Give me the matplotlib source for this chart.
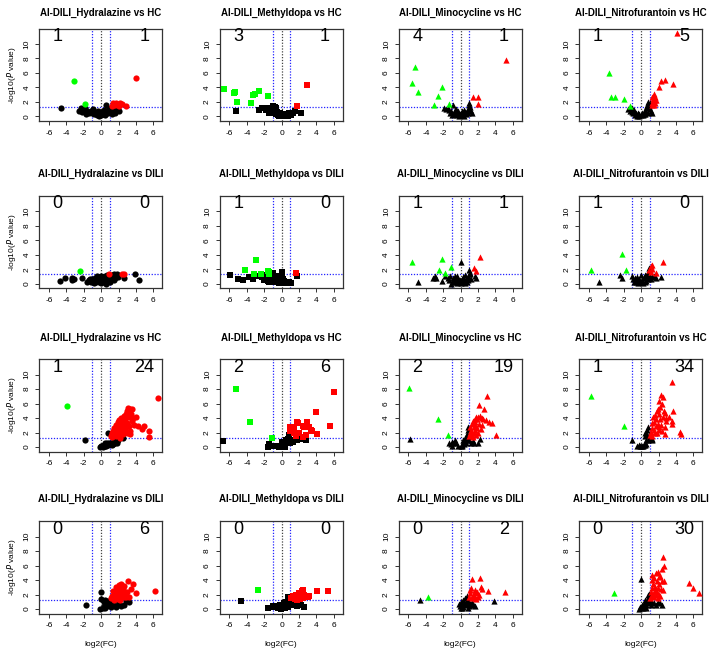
import matplotlib.pyplot as plt
import numpy as np

plt.rcParams['font.family'] = ['Liberation Sans', 'DejaVu Sans']
plt.rcParams['axes.unicode_minus'] = False

drugs = ['Hydralazine', 'Methyldopa', 'Minocycline', 'Nitrofurantoin']
row_refs = ['HC', 'DILI', 'HC', 'DILI']
markers = ['o', 's', '^', '^']
n_down = [[1, 3, 4, 1], [0, 1, 1, 1], [1, 2, 2, 1], [0, 0, 0, 0]]
n_up = [[1, 1, 1, 5], [0, 0, 1, 0], [24, 6, 19, 34], [6, 0, 2, 30]]

# (log2FC, -log10 p), one set per panel
# row 1: vs HC
p11_black = [(-4.6, 1.2), (-2.3, 1.1), (-2.0, 0.9), (-2.2, 0.6), (-1.9, 1.2), (-1.6, 0.7), (-1.4, 0.5),
             (-1.2, 0.8), (-1.0, 0.4), (-0.8, 0.3), (-0.6, 0.5), (-0.5, 0.2), (-0.3, 0.4), (-0.2, 0.1),
             (0.0, 0.2), (0.1, 0.5), (0.2, 0.3), (0.4, 0.6), (0.5, 0.2), (0.6, 1.5), (0.7, 0.8), (0.8, 0.4),
             (0.9, 1.0), (1.0, 0.6), (1.2, 0.3), (1.4, 0.9), (1.6, 0.5), (1.8, 1.1), (2.0, 0.7), (0.3, 0.9),
             (-0.9, 1.0), (-2.5, 0.8), (-1.7, 0.3), (-0.4, 0.7), (1.1, 1.2), (0.0, 0.6)]
p11_green = [(-3.1, 4.9), (-1.9, 1.65)]
p11_red = [(4.0, 5.25), (1.4, 1.8), (1.6, 1.5), (1.9, 1.6), (2.2, 1.8), (2.4, 1.7), (2.9, 1.4), (1.3, 1.4),
           (1.7, 1.9), (2.0, 1.4)]

p12_black = [(-5.2, 0.7), (2.2, 0.5), (1.5, 0.8), (-2.6, 0.9), (-2.3, 1.2), (-2.0, 1.1), (-1.8, 0.9),
             (-1.6, 1.2), (-1.5, 0.7), (-1.3, 1.0), (-1.2, 0.6), (-1.0, 1.4), (-0.9, 0.8), (-0.8, 0.4),
             (-0.7, 1.1), (-0.6, 0.3), (-0.5, 0.6), (-0.4, 0.2), (-0.3, 0.1), (-0.2, 0.4), (0.0, 0.1),
             (0.2, 0.2), (0.3, 0.05), (0.5, 0.3), (0.7, 0.1), (0.9, 0.3), (1.1, 0.2), (1.3, 0.5), (-1.1, 1.2),
             (-0.8, 1.3), (-1.4, 0.4), (0.1, 0.35), (-0.1, 0.2), (0.6, 0.15), (0.8, 0.4)]
p12_green = [(-6.6, 3.7), (-5.5, 3.2), (-5.4, 3.35), (-5.1, 2.0), (-3.55, 1.8), (-3.3, 3.0), (-3.1, 3.1),
             (-2.6, 3.5), (-1.6, 2.75)]
p12_red = [(2.9, 4.25), (1.8, 1.4)]

p13_black = [(-1.9, 1.2), (-1.7, 1.0), (-1.5, 1.1), (-1.3, 0.9), (-1.1, 0.7), (-0.9, 1.6), (-0.8, 0.5),
             (-0.7, 0.9), (-0.6, 0.3), (-0.5, 0.6), (-0.4, 0.2), (-0.3, 0.4), (-0.2, 0.1), (-0.1, 0.3),
             (0.0, 0.15), (0.1, 0.5), (0.2, 0.2), (0.3, 0.4), (0.4, 0.1), (0.5, 0.6), (0.6, 0.3), (0.7, 0.8),
             (0.8, 0.5), (0.9, 1.0), (1.0, 1.9), (1.1, 1.3), (1.2, 0.7), (1.3, 0.4), (-1.0, 0.2), (-0.5, 1.0),
             (0.4, 0.9), (-1.2, 0.4), (0.95, 1.5), (1.05, 0.9), (-0.3, 0.8), (0.2, 0.7)]
p13_green = [(-5.3, 6.75), (-5.6, 4.6), (-4.85, 3.4), (-2.1, 4.0), (-2.65, 2.8), (-3.1, 1.5), (-1.3, 1.7)]
p13_red = [(5.2, 7.8), (1.45, 2.7), (2.0, 2.7), (2.0, 1.7)]

p14_black = [(-1.5, 1.0), (-1.3, 0.8), (-1.1, 0.6), (-1.0, 1.1), (-0.9, 0.4), (-0.7, 0.2), (-0.6, 0.5),
             (-0.5, 0.1), (-0.3, 0.3), (-0.2, 0.1), (0.0, 0.2), (0.1, 0.4), (0.2, 0.15), (0.3, 0.3),
             (0.4, 0.6), (0.5, 0.9), (0.6, 1.2), (0.7, 1.6), (0.8, 2.0), (0.9, 1.4), (1.0, 1.0), (1.1, 0.7),
             (1.2, 0.5), (0.75, 0.5), (0.5, 0.3), (-0.8, 0.9), (1.0, 1.8), (0.85, 1.1), (-0.4, 0.45),
             (-1.2, 1.2)]
p14_green = [(-3.75, 6.0), (-3.5, 2.7), (-3.05, 2.65), (-2.0, 2.4), (-1.3, 1.4)]
p14_red = [(4.1, 11.5), (3.68, 4.4), (2.8, 5.07), (2.34, 4.93), (2.07, 4.0), (1.3, 1.6), (1.35, 2.0),
           (1.4, 2.4), (1.45, 2.8), (1.5, 3.1), (1.55, 2.2), (1.6, 1.8), (1.65, 2.6), (1.2, 1.9), (1.3, 2.6),
           (1.5, 1.5), (1.7, 2.2)]

# row 2: vs DILI
p21_black = [(-4.7, 0.4), (-4.2, 0.75), (-3.4, 0.75), (-3.3, 0.5), (-3.15, 0.7), (-2.2, 0.85), (2.6, 0.8),
             (3.85, 1.3), (4.35, 0.5), (-1.6, 0.3), (-1.4, 0.5), (-1.2, 0.2), (-1.0, 0.6), (-0.9, 0.4),
             (-0.7, 0.8), (-0.6, 0.3), (-0.5, 1.0), (-0.4, 0.5), (-0.2, 0.2), (-0.1, 0.7), (0.0, 1.1),
             (0.1, 0.4), (0.2, 0.9), (0.3, 0.2), (0.4, 0.6), (0.5, 1.0), (0.6, 0.5), (0.7, 1.2), (0.8, 0.3),
             (0.9, 0.8), (1.0, 0.5), (1.1, 1.0), (1.2, 0.7), (1.3, 1.2), (1.4, 0.9), (1.5, 1.3), (1.6, 0.8),
             (1.7, 1.1), (1.8, 1.3), (1.9, 0.9), (-0.8, 0.1), (0.0, 0.1), (0.6, 0.0), (-1.3, 0.7),
             (-0.3, 0.9), (1.0, 0.2), (1.5, 0.5)]
p21_green = [(-2.4, 1.7)]
p21_red = [(0.95, 1.4), (2.45, 1.4), (2.6, 1.3)]

p22_black = [(-5.9, 1.25), (-5.0, 0.7), (-4.4, 0.45), (-3.8, 0.9), (-3.35, 0.7), (-2.6, 1.0), (1.77, 1.0),
             (-2.3, 0.9), (-2.0, 0.5), (-1.8, 1.2), (-1.6, 0.4), (-1.4, 0.8), (-1.2, 1.3), (-1.1, 0.6),
             (-1.0, 1.5), (-0.9, 0.3), (-0.8, 0.9), (-0.7, 0.2), (-0.6, 0.6), (-0.5, 1.1), (-0.4, 0.3),
             (-0.3, 0.1), (-0.2, 0.5), (-0.1, 0.2), (0.0, 1.6), (0.0, 0.8), (0.1, 0.3), (0.2, 0.1), (0.3, 0.4),
             (0.4, 0.2), (0.5, 0.05), (0.6, 0.3), (0.7, 0.1), (0.9, 0.2), (1.1, 0.1), (-1.5, 0.2), (-0.5, 0.7),
             (0.2, 0.6)]
p22_green = [(-4.27, 1.9), (-2.96, 3.3), (-3.23, 1.35), (-2.35, 1.35), (-1.6, 1.8), (-1.46, 1.65),
             (-1.46, 1.4)]
p22_red = [(1.6, 1.5)]

p23_black = [(-4.85, 0.23), (0.0, 3.04), (-3.2, 0.74), (-2.95, 1.0), (-2.8, 0.8), (-2.1, 0.4), (-1.8, 1.0),
             (1.6, 1.0), (1.8, 0.8), (0.95, 1.9), (1.06, 1.5), (-1.5, 0.8), (-1.3, 0.5), (-1.2, 1.1),
             (-1.0, 0.3), (-0.9, 0.8), (-0.8, 0.2), (-0.7, 0.6), (-0.6, 1.0), (-0.5, 0.4), (-0.4, 0.1),
             (-0.3, 0.7), (-0.2, 0.3), (-0.1, 0.5), (0.0, 0.1), (0.1, 0.6), (0.2, 0.2), (0.3, 0.9), (0.4, 0.4),
             (0.5, 0.1), (0.6, 0.7), (0.7, 0.3), (0.8, 1.1), (0.9, 0.5), (1.0, 0.8), (1.1, 1.3), (1.2, 0.6),
             (-1.1, 0.0), (0.5, 1.2), (-0.4, 1.0)]
p23_green = [(-5.6, 2.95), (-2.16, 3.4), (-2.54, 1.84), (-1.78, 1.47), (-1.06, 2.3)]
p23_red = [(2.2, 3.73), (1.52, 2.12), (1.82, 1.8)]

p24_black = [(-4.9, 0.23), (2.3, 0.9), (-2.46, 1.2), (-2.15, 0.8), (0.85, 2.2), (-1.0, 1.0), (-0.9, 0.6),
             (-0.8, 0.3), (-0.7, 0.8), (-0.6, 0.2), (-0.5, 0.5), (-0.4, 0.1), (-0.3, 0.4), (-0.2, 0.7),
             (-0.1, 0.2), (0.0, 1.2), (0.0, 0.3), (0.1, 0.5), (0.2, 0.1), (0.3, 0.8), (0.4, 0.3), (0.5, 1.0),
             (0.6, 0.4), (0.7, 1.4), (0.8, 0.7), (0.9, 1.7), (1.0, 1.1), (1.1, 0.6), (1.3, 0.9), (1.5, 1.0),
             (1.7, 0.8), (-0.5, 0.9), (0.4, 1.2)]
p24_green = [(-5.73, 1.84), (-2.15, 4.1), (-1.8, 1.94)]
p24_red = [(2.5, 2.95), (1.3, 2.6), (1.1, 2.5), (0.96, 1.94), (1.1, 1.57), (1.73, 1.47), (1.2, 2.0)]

# row 3: vs HC
p31_black = [(-1.9, 0.96), (0.76, 1.97), (2.5, 1.28), (0.0, 0.1), (0.1, 0.2), (0.2, 0.05), (0.3, 0.3),
             (0.4, 0.15), (0.5, 0.4), (0.6, 0.2), (0.7, 0.5), (0.8, 0.3), (0.9, 0.6), (1.0, 0.4), (1.1, 0.5),
             (1.2, 0.3), (1.3, 0.6), (1.4, 0.4), (1.5, 0.7), (1.6, 0.5), (1.7, 0.8), (1.8, 0.6), (0.45, 0.55),
             (0.3, 0.1), (-0.1, 0.0), (1.9, 0.9)]
p31_green = [(-3.9, 5.7)]
p31_red = [(6.5, 6.75), (5.45, 2.2), (5.5, 1.33), (4.9, 2.94), (4.2, 2.94), (4.65, 2.43), (3.35, 2.2),
           (1.1, 1.5), (1.2, 1.9), (1.3, 1.4), (1.4, 2.2), (1.5, 1.7), (1.5, 2.6), (1.6, 2.0), (1.7, 1.5),
           (1.7, 3.0), (1.8, 2.4), (1.9, 1.8), (1.9, 3.4), (2.0, 2.8), (2.0, 2.1), (2.1, 3.7), (2.1, 1.6),
           (2.2, 2.5), (2.3, 3.2), (2.3, 4.0), (2.4, 2.0), (2.4, 2.9), (2.5, 3.5), (2.5, 1.8), (2.6, 2.6),
           (2.6, 4.3), (2.7, 3.1), (2.8, 2.3), (2.8, 3.8), (2.9, 4.6), (2.9, 2.7), (3.0, 5.0), (3.0, 3.3),
           (3.1, 5.4), (3.2, 4.2), (3.2, 2.9), (3.3, 5.2), (3.4, 4.6), (3.5, 3.6), (3.5, 5.3), (3.7, 4.0),
           (3.8, 3.0), (4.0, 4.1), (3.3, 1.8), (3.0, 2.0), (2.2, 1.3)]

p32_black = [(-6.8, 0.78), (-1.5, 0.37), (-1.6, 0.0), (-1.2, 0.2), (-1.0, 0.1), (-0.8, 0.2), (-0.6, 0.1),
             (-0.4, 0.15), (-0.2, 0.1), (0.0, 0.3), (0.1, 0.5), (0.2, 0.2), (0.3, 0.7), (0.4, 0.4), (0.5, 0.9),
             (0.6, 0.6), (0.7, 1.1), (0.8, 0.8), (0.9, 1.7), (1.0, 0.5), (1.1, 0.9), (1.3, 0.7), (1.8, 1.0),
             (2.3, 1.05), (2.8, 0.95), (0.35, 0.05), (-0.3, 0.0), (0.05, 0.7)]
p32_green = [(-5.23, 8.0), (-3.64, 3.4), (-1.14, 1.28)]
p32_red = [(6.0, 7.57), (5.6, 2.94), (3.9, 4.77), (4.05, 1.83), (3.4, 2.34), (3.5, 2.2), (2.95, 3.44),
           (2.54, 2.8), (2.4, 2.84), (1.75, 3.44), (1.9, 3.3), (1.45, 2.43), (1.3, 2.75), (1.0, 2.8),
           (1.0, 2.2), (2.05, 1.88), (1.7, 1.5), (2.4, 1.42), (3.1, 2.8), (2.8, 1.65), (1.4, 1.88)]

p33_black = [(-5.8, 1.1), (-1.3, 0.6), (-1.1, 0.4), (-1.0, 0.7), (-0.9, 0.5), (-0.7, 0.9), (-0.5, 0.6),
             (-1.0, 0.1), (0.0, 0.1), (0.1, 0.3), (0.2, 0.2), (0.3, 0.5), (0.4, 0.4), (0.5, 0.8), (0.6, 0.6),
             (0.7, 1.2), (0.8, 1.0), (0.9, 1.5), (0.7, 1.8), (0.8, 2.4), (0.9, 2.7), (1.0, 0.9), (1.2, 0.6),
             (1.4, 0.8), (2.0, 0.6), (2.2, 1.1), (0.5, 1.3), (0.3, 0.9), (-0.3, 0.2), (1.5, 0.5)]
p33_green = [(-5.94, 8.2), (-2.63, 3.85), (-1.4, 1.6)]
p33_red = [(3.0, 7.0), (2.1, 5.8), (2.7, 5.3), (4.1, 1.7), (3.6, 3.3), (3.3, 3.4), (2.9, 3.7), (2.5, 3.0),
           (2.2, 4.3), (2.0, 4.1), (1.9, 3.8), (1.8, 4.2), (1.7, 3.5), (1.6, 3.0), (1.5, 2.7), (1.4, 3.6),
           (1.3, 3.2), (1.2, 2.4), (1.1, 1.9), (1.0, 1.5), (1.2, 1.6), (1.5, 2.0), (1.7, 2.3), (1.9, 2.6),
           (2.1, 3.2), (2.3, 2.5), (2.6, 3.8), (1.4, 1.4), (1.8, 1.7), (2.0, 2.0), (1.1, 2.8), (1.6, 3.9),
           (2.4, 4.0), (1.3, 2.0)]

p34_black = [(-1.0, 1.0), (-0.5, 0.2), (-0.3, 0.3), (-0.1, 0.1), (0.1, 0.2), (0.3, 0.25), (0.5, 0.3),
             (0.6, 0.4), (0.4, 1.5), (0.5, 2.0), (0.7, 2.4), (0.8, 2.8), (0.7, 1.7), (0.9, 1.6), (1.0, 1.2),
             (1.2, 1.0), (1.3, 1.1), (0.6, 1.0), (0.8, 0.9), (0.2, 0.1), (0.0, 0.15)]
p34_green = [(-5.8, 7.0), (-2.0, 2.84)]
p34_red = [(3.6, 8.9), (2.3, 7.2), (2.5, 6.9), (2.0, 6.3), (2.4, 6.0), (2.2, 5.5), (1.9, 5.3), (2.6, 5.0),
           (2.8, 4.7), (3.2, 4.1), (3.6, 3.6), (3.7, 4.9), (3.5, 3.2), (2.9, 3.6), (2.7, 2.8), (2.5, 4.2),
           (2.2, 3.8), (2.0, 4.6), (1.8, 4.9), (1.7, 3.9), (1.6, 4.4), (1.5, 3.5), (1.4, 4.1), (1.3, 3.3),
           (1.2, 2.6), (1.1, 2.1), (1.0, 1.7), (1.3, 1.5), (1.5, 2.3), (1.7, 2.9), (1.9, 3.2), (2.1, 2.7),
           (2.3, 3.1), (2.4, 2.2), (2.7, 1.8), (4.5, 2.1), (4.6, 1.8), (1.8, 2.0), (2.0, 2.4), (1.6, 1.9),
           (2.9, 4.0)]

# row 4: vs DILI
p41_black = [(-1.8, 0.5), (0.0, 2.3), (0.0, 1.4), (0.2, 0.1), (-0.1, 0.05), (0.3, 0.3), (0.4, 0.5),
             (0.5, 0.2), (0.6, 0.8), (0.7, 0.4), (0.8, 1.1), (0.9, 0.6), (1.0, 0.9), (1.1, 0.3), (1.2, 0.6),
             (1.3, 0.9), (1.5, 0.5), (1.7, 0.3), (2.0, 0.7), (2.3, 0.4), (2.6, 0.6), (2.9, 1.1), (3.2, 0.9),
             (0.5, 1.3), (0.3, 0.9), (1.6, 1.2)]
p41_green = []
p41_red = [(6.2, 2.5), (4.0, 2.17), (3.1, 3.9), (3.65, 3.4), (1.1, 1.5), (1.3, 1.8), (1.4, 2.5), (1.5, 1.6),
           (1.6, 2.2), (1.7, 3.1), (1.8, 1.9), (1.9, 2.7), (2.0, 3.3), (2.0, 1.5), (2.1, 2.4), (2.2, 2.9),
           (2.3, 3.5), (2.3, 1.8), (2.4, 2.2), (2.5, 3.0), (2.5, 2.6), (2.6, 1.7), (2.7, 2.4), (2.8, 2.0),
           (2.9, 1.6), (3.0, 2.3), (3.2, 1.7), (3.4, 2.7), (1.9, 1.4), (2.2, 1.3), (1.5, 1.3), (2.6, 3.2)]

p42_black = [(-4.7, 1.1), (-1.6, 0.1), (-1.05, 0.46), (-0.9, 0.3), (0.75, 1.7), (-0.6, 0.4), (-0.4, 0.2),
             (-0.2, 0.5), (0.0, 0.3), (0.1, 0.6), (0.2, 0.2), (0.3, 0.8), (0.4, 0.4), (0.5, 1.0), (0.6, 0.5),
             (0.7, 0.3), (0.8, 0.8), (0.9, 1.2), (1.0, 0.6), (1.1, 0.9), (1.3, 0.5), (1.5, 0.7), (1.8, 0.4),
             (2.2, 0.5), (2.6, 0.3), (-0.1, 0.0), (0.4, 0.1), (1.2, 1.1)]
p42_green = [(-2.7, 2.6)]
p42_red = [(5.3, 2.5), (4.1, 2.5), (2.35, 2.5), (2.45, 2.6), (3.2, 1.8), (3.0, 1.6), (1.1, 1.5), (1.3, 1.8),
           (1.5, 1.4), (1.7, 2.0), (1.9, 1.6), (2.0, 2.2), (2.2, 1.8), (2.4, 1.5), (2.6, 1.9), (1.4, 1.6),
           (2.1, 1.4), (1.8, 1.3), (2.5, 2.2)]

p43_black = [(-4.7, 1.25), (3.8, 1.1), (0.0, 0.2), (-0.1, 0.4), (0.1, 0.1), (0.2, 0.5), (0.3, 0.3),
             (0.4, 0.8), (0.5, 0.5), (0.6, 1.0), (0.7, 0.7), (0.8, 1.3), (0.9, 0.9), (1.0, 0.4), (1.1, 0.7),
             (1.2, 0.5), (1.4, 0.6), (1.6, 0.4), (0.5, 1.5), (0.7, 1.8), (0.3, 1.2), (0.9, 0.2), (0.0, 1.0),
             (-0.2, 0.7), (1.3, 1.0)]
p43_green = [(-3.7, 1.65)]
p43_red = [(5.15, 2.3), (3.1, 2.5), (1.3, 4.1), (2.2, 4.3), (2.3, 3.1), (2.4, 2.8), (1.9, 2.4), (1.6, 2.6),
           (1.4, 2.0), (1.2, 2.9), (1.1, 2.2), (1.0, 1.7), (1.5, 1.8), (1.7, 2.2), (2.0, 1.6), (1.8, 1.4),
           (1.3, 1.5), (1.1, 2.6), (1.6, 1.5), (2.1, 1.9)]

p44_black = [(0.0, 4.1), (-0.1, 0.3), (0.0, 0.1), (0.1, 0.5), (0.2, 0.2), (0.3, 0.7), (0.4, 0.3), (0.5, 1.0),
             (0.6, 0.5), (0.7, 1.3), (0.8, 0.8), (0.9, 1.7), (1.0, 1.1), (1.1, 0.6), (1.3, 0.9), (1.5, 0.8),
             (1.7, 0.6), (1.9, 0.9), (2.2, 0.8), (2.4, 0.6), (0.9, 2.1), (0.8, 1.9), (-0.2, 0.0), (0.6, 0.1),
             (0.4, 1.2)]
p44_green = [(-3.13, 2.17)]
p44_red = [(2.55, 7.2), (2.67, 5.9), (2.44, 5.5), (1.9, 5.1), (5.5, 3.6), (6.0, 2.9), (6.7, 2.2), (2.67, 3.8),
           (2.55, 2.6), (1.2, 4.0), (1.3, 4.7), (1.4, 3.5), (1.5, 4.3), (1.6, 3.1), (1.7, 4.9), (1.8, 3.8),
           (1.9, 2.9), (2.0, 4.4), (2.1, 3.4), (2.2, 4.6), (2.3, 2.7), (2.4, 3.9), (1.1, 2.3), (1.2, 1.8),
           (1.3, 2.9), (1.4, 2.1), (1.5, 1.6), (1.6, 2.5), (1.7, 1.9), (1.8, 2.3), (1.9, 1.5), (2.0, 2.0),
           (2.2, 1.8), (1.0, 1.5)]

panels = [
    [(p11_black, p11_green, p11_red), (p12_black, p12_green, p12_red),
     (p13_black, p13_green, p13_red), (p14_black, p14_green, p14_red)],
    [(p21_black, p21_green, p21_red), (p22_black, p22_green, p22_red),
     (p23_black, p23_green, p23_red), (p24_black, p24_green, p24_red)],
    [(p31_black, p31_green, p31_red), (p32_black, p32_green, p32_red),
     (p33_black, p33_green, p33_red), (p34_black, p34_green, p34_red)],
    [(p41_black, p41_green, p41_red), (p42_black, p42_green, p42_red),
     (p43_black, p43_green, p43_red), (p44_black, p44_green, p44_red)],
]

W, H = 709, 654
fig = plt.figure(figsize=(W / 100, H / 100), dpi=100)

# layout in pixels
col_left = [39, 219.5, 398.5, 579]
ax_w = 123
y_zero = [116.3, 283.7, 447, 609]
px_per_y = 7.25
ylo, yhi = -0.65, 12.1
ax_h = (yhi - ylo) * px_per_y
title_y = [13.3, 174, 338, 499]
msize = {'o': 20, 's': 15, '^': 20}

for r in range(4):
    top = y_zero[r] - yhi * px_per_y
    for c in range(4):
        ax = fig.add_axes([col_left[c] / W, 1 - (top + ax_h) / H, ax_w / W, ax_h / H])
        black, green, red = panels[r][c]
        m = markers[c]
        for pts, col in ((black, 'black'), (green, '#00ff00'), (red, '#ff0000')):
            if len(pts):
                a = np.array(pts)
                ax.scatter(a[:, 0], a[:, 1], s=msize[m], marker=m, c=col, linewidths=0, zorder=3)
        dot = (0, (1, 1.3))
        ax.axvline(-1, color='#2222ff', ls=dot, lw=0.9, zorder=2)
        ax.axvline(1, color='#2222ff', ls=dot, lw=0.9, zorder=2)
        ax.axvline(0, color='#444444', ls=dot, lw=0.9, zorder=2)
        ax.axhline(1.3, color='#2222ff', ls=dot, lw=0.9, zorder=2)
        ax.text(-5, 11, str(n_down[r][c]), ha='center', va='center', fontsize=13)
        ax.text(5, 11, str(n_up[r][c]), ha='center', va='center', fontsize=13)
        ax.set_xlim(-7.15, 7.0)
        ax.set_ylim(ylo, yhi)
        ax.set_xticks([-6, -4, -2, 0, 2, 4, 6])
        ax.set_yticks([0, 2, 4, 6, 8, 10])
        ax.tick_params(length=3, width=0.7, labelsize=6, pad=3.2, color='#333333')
        for lab in ax.get_yticklabels():
            lab.set_rotation(90)
            lab.set_va('center')
        for sp in ax.spines.values():
            sp.set_linewidth(0.9)
            sp.set_color('#333333')
        fig.text((col_left[c] + ax_w / 2) / W, 1 - title_y[r] / H,
                 'AI-DILI_%s vs %s' % (drugs[c], row_refs[r]),
                 ha='center', va='center', fontsize=7, fontweight='bold')
        if c == 0:
            fig.text(11 / W, 1 - (top + ax_h / 2) / H, '-log10($\\it{P}$ value)',
                     rotation=90, ha='center', va='center', fontsize=6)
        if r == 3:
            fig.text((col_left[c] + ax_w / 2) / W, 1 - 644 / H, 'log2(FC)',
                     ha='center', va='center', fontsize=6)

fig.savefig('out.png', dpi=100)
